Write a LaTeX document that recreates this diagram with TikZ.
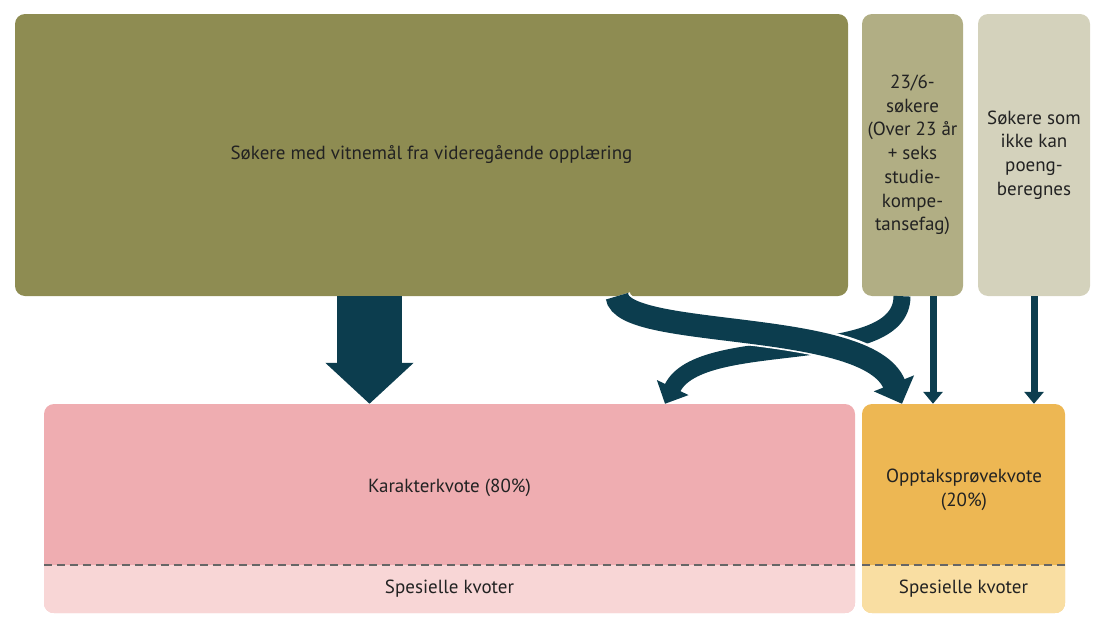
\documentclass[tikz,border=0pt]{standalone}
\usepackage{fontspec}
\setmainfont{PT Sans}
\usetikzlibrary{arrows.meta}
\definecolor{gronn}{HTML}{8E8C52}
\definecolor{gronnlys}{HTML}{B1AE84}
\definecolor{gronnbleik}{HTML}{D4D2BC}
\definecolor{rosa}{HTML}{EFADB1}
\definecolor{rosalys}{HTML}{F8D6D6}
\definecolor{oransje}{HTML}{EDB753}
\definecolor{oransjelys}{HTML}{F9DEA2}
\definecolor{pilfarge}{HTML}{0C3D4E}
\definecolor{tekst}{HTML}{222222}
\tikzset{
  boks/.style={rounded corners=10, inner sep=0, align=center, text=tekst},
  skille/.style={draw=black!60, line width=1.7, dash pattern=on 8pt off 5pt},
}
\begin{document}
\begin{tikzpicture}[x=1pt, y=-1pt, font=\fontsize{19}{23.7}\selectfont]
\useasboundingbox (0,0) rectangle (1119,629);
% sokargrupper
\node[boks, fill=gronn, minimum width=833, minimum height=282] (vitnemal) at (431.5,155) {Søkere med vitnemål fra videregående opplæring};
\node[boks, fill=gronnlys, minimum width=101, minimum height=282] (over23) at (912.5,155) {23/6-\\søkere\\(Over 23 år\\+ seks\\studie-\\kompe-\\tansefag)};
\node[boks, fill=gronnbleik, minimum width=112, minimum height=282] (ikkepoeng) at (1034,155) {Søkere som\\ikke kan\\poeng-\\beregnes};
% kvotar
\node[boks, fill=rosa, minimum width=811, minimum height=209] (karakter) at (449.5,508.5) {};
\node[boks, fill=oransje, minimum width=203, minimum height=209] (opptak) at (963.5,508.5) {};
\foreach \k/\f in {karakter/rosalys, opptak/oransjelys}
{
    \begin{scope}
    \clip[rounded corners=10] (\k.south west) rectangle (\k.north east);
    \fill[\f] (\k.south west) rectangle ([yshift=48]\k.south east);
    \end{scope}
    \draw[skille] ([yshift=48]\k.south west)--([yshift=48]\k.south east);
    \node[text=tekst] at ([yshift=25]\k.south) {Spesielle kvoter};
}
\node[text=tekst] (kartekst) at (449.5,488) {Karakterkvote (80\%)};
\node[text=tekst, align=center] (opptekst) at (964,490) {Opptaksprøvekvote\\(20\%)};
% piler
\draw[pilfarge, line width=65, -{Triangle[width=86pt,length=41pt]}] (vitnemal.south -| 369.5,0)--(karakter.north -| 369.5,0);
\draw[pilfarge, line width=17, -{Triangle[width=34pt,length=18pt]}] (over23.south -| 902,0) .. controls (902,370) and (700,330) .. (karakter.north -| 665,0);
\draw[white, line width=27, shorten >=22pt] (vitnemal.south -| 617,0) .. controls (622,340) and (868,318) .. (opptak.north -| 902,0);
\draw[pilfarge, line width=23, -{Triangle[width=42pt,length=22pt]}] (vitnemal.south -| 617,0) .. controls (622,340) and (868,318) .. (opptak.north -| 902,0);
\foreach \fra/\x in {over23/933, ikkepoeng/1034}
{
    \draw[pilfarge, line width=7, -{Triangle[width=19pt,length=12pt]}] (\fra.south -| \x,0)--(opptak.north -| \x,0);
}
\end{tikzpicture}
\end{document}
